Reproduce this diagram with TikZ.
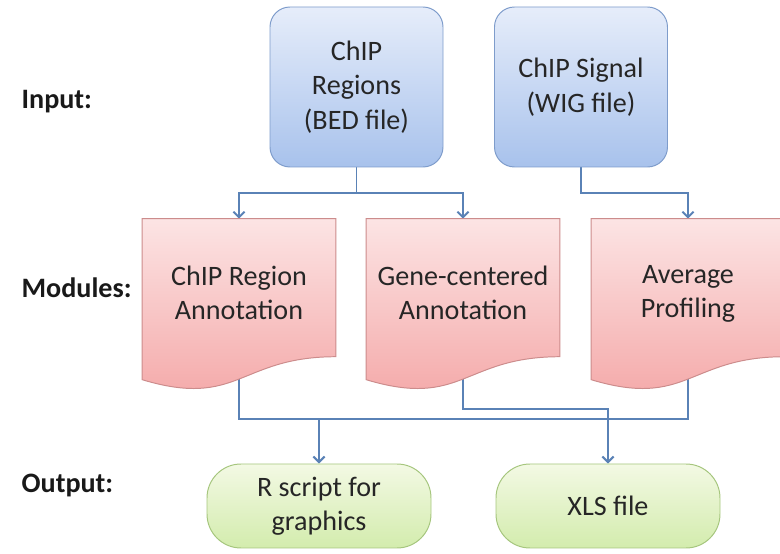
\documentclass[tikz,border=0pt]{standalone}
\usepackage{fontspec}
\setmainfont{Carlito}
\usepackage{tikz}
\usetikzlibrary{shapes,arrows.meta}
\pgfdeclarelayer{lines}
\pgfdeclarelayer{shapes}
\pgfsetlayers{lines,shapes,main}

\definecolor{flowblue}{HTML}{5A82B6}
\definecolor{inbord}{HTML}{7E9CCB}
\definecolor{intop}{HTML}{E6EDFA}
\definecolor{inbot}{HTML}{A8C2EC}
\definecolor{modbord}{HTML}{CC8C8C}
\definecolor{modtop}{HTML}{FCE4E4}
\definecolor{modbot}{HTML}{F4A6A6}
\definecolor{outbord}{HTML}{A6C67E}
\definecolor{outtop}{HTML}{F3F9E4}
\definecolor{outbot}{HTML}{D3ECAD}

\begin{document}
\begin{tikzpicture}[>={Straight Barb[length=4pt,width=8pt]}]
	\fontsize{20}{24.5}\selectfont
	\clip (0,0) rectangle (19.5cm,13.85cm);

	\def \inputrow{11.675cm}
	\def \splitrow{9.025cm}
	\def \modrow{6.525cm}
	\def \mergetwo{3.625cm}
	\def \mergeone{3.375cm}
	\def \outrow{1.2cm}

	\tikzstyle{in-node}=[rectangle,rounded corners=0.5cm,draw=inbord,line width=0.7pt,top color=intop,bottom color=inbot,minimum width=4.325cm,minimum height=4cm,align=center,text=black!85]
	\tikzstyle{mod-node}=[rectangle,inner sep=0pt,minimum width=4.825cm,minimum height=3.7cm,align=center,text=black!85]
	\tikzstyle{docbox}=[draw=modbord,line width=0.7pt,top color=modtop,bottom color=modbot]
	\tikzstyle{out-node}=[rectangle,rounded corners=0.85cm,draw=outbord,line width=0.7pt,top color=outtop,bottom color=outbot,minimum width=5.6cm,minimum height=2.1cm,align=center,text=black!85]
	\tikzstyle{flow}=[draw=flowblue,line width=1.4pt]
	% row labels
	\tikzstyle{annot}=[anchor=west,font=\bfseries,text=black!90]
	\node[annot] (input-lbl) at (0.3cm,11.3cm) {Input:};
	\node[annot] (mod-lbl) at (0.3cm,6.65cm) {Modules:};
	\node[annot] (out-lbl) at (0.3cm,1.725cm) {Output:};

	% inputs
	\node[in-node] (regions) at (8.9125cm,\inputrow) {ChIP\\Regions\\(BED file)};
	\node[in-node] (signal) at (14.525cm,\inputrow) {ChIP Signal\\(WIG file)};

	% modules
	\node[mod-node] (regannot) at (5.975cm,\modrow) {ChIP Region\\Annotation};
	\node[mod-node] (geneannot) at (11.575cm,\modrow) {Gene-centered\\Annotation};
	\node[mod-node] (profiling) at (17.2cm,\modrow) {\vphantom{Ch}Average\\Profiling};

	\begin{pgfonlayer}{shapes}
	\foreach \m in {regannot,geneannot,profiling}
		\shade[docbox] (\m.north west) -- (\m.north east) -- ++(0,-3.45cm)
			.. controls +(-2.4125cm,0) and +(2.4125cm,-0.725cm) .. ([yshift=-4.025cm]\m.north west) -- cycle;
	\end{pgfonlayer}

	% outputs
	\node[out-node] (rscript) at (7.975cm,\outrow) {R script for\\graphics};
	\node[out-node] (xls) at (15.2cm,\outrow) {XLS file};

	\coordinate (split) at (regions.south |- 0,\splitrow);
	\coordinate (merge) at (rscript.north |- 0,\mergeone);

	\begin{pgfonlayer}{lines}
	\draw[flow] (regions.south) -- (split);
	\draw[flow,->] (split) -| (regannot.north);
	\draw[flow,->] (split) -| (geneannot.north);
	\draw[flow,->] (signal.south) -- (signal.south |- 0,\splitrow) -| (profiling.north);

	\draw[flow] (regannot.center) |- (merge) -| (profiling.center);
	\draw[flow,->] (merge) -- (rscript.north);
	\draw[flow,->] (geneannot.center) |- (xls.north |- 0,\mergetwo) -- (xls.north);
	\end{pgfonlayer}
\end{tikzpicture}
\end{document}
